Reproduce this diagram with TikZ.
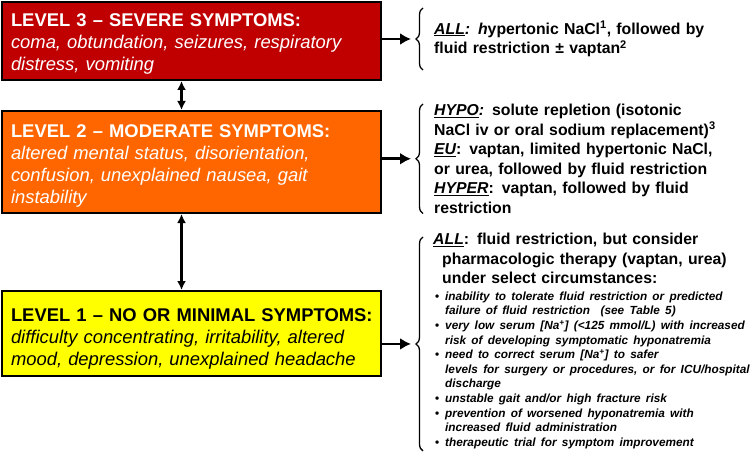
\documentclass[tikz,border=0pt]{standalone}
\usepackage{fontspec}
\setmainfont{Liberation Sans}
\usetikzlibrary{arrows.meta,decorations.pathreplacing}
\definecolor{sevred}{HTML}{C00000}
\definecolor{modorange}{HTML}{FF6600}
\definecolor{minyellow}{HTML}{FFFF00}
\newcommand{\hbul}{\par\hangindent=10pt\hangafter=1\noindent\makebox[10pt][l]{\upshape\textbullet}}
\tikzset{
 levelbox/.style={draw=black, line width=2pt, anchor=north west, minimum width=379pt, text width=361pt, inner xsep=9pt, inner ysep=0pt, align=left, font=\fontsize{18.4}{22}\selectfont},
 treatment/.style={anchor=north west, inner sep=0pt, align=left, font=\bfseries\fontsize{15.8}{19.5}\selectfont},
 levelarrow/.style={line width=2.8pt, -{Latex[length=11pt,width=12pt]}},
 steparrow/.style={line width=2.2pt, {Latex[length=9pt,width=9pt]}-{Latex[length=9pt,width=9pt]}},
 curly/.style={decorate, decoration={brace, amplitude=7pt}, line width=1.3pt}
}
\begin{document}
\begin{tikzpicture}[x=1pt, y=-1pt]
\useasboundingbox (0,0) rectangle (751,454);

\node[levelbox, fill=sevred, text=white, minimum height=78pt] (lvl3) at (1,1) {\rule{0pt}{18pt}\mbox{\textbf{LEVEL 3 -- SEVERE SYMPTOMS:}}\\ \textit{coma, obtundation, seizures, respiratory}\\ \textit{distress, vomiting}};
\node[levelbox, fill=modorange, text=white, minimum height=102pt] (lvl2) at (1,110) {\rule{0pt}{20pt}\mbox{\textbf{LEVEL 2 -- MODERATE SYMPTOMS:}}\\ \textit{altered mental status, disorientation,}\\ \textit{confusion, unexplained nausea, gait}\\ \textit{instability}};
\node[levelbox, fill=minyellow, minimum height=85pt] (lvl1) at (1,290) {\rule{0pt}{23pt}\mbox{\textbf{LEVEL 1 -- NO OR MINIMAL SYMPTOMS:}}\\ \textit{difficulty concentrating, irritability, altered}\\ \textit{mood, depression, unexplained headache}};

\node[treatment, text width=316pt, inner ysep=13pt] (t3) at (434,8) {\textit{\underline{ALL}: h}ypertonic NaCl\textsuperscript{1}, followed by\\ fluid restriction \textpm{} vaptan\textsuperscript{2}};
\node[treatment, text width=316pt] (t2) at (434,104) {\textit{\underline{HYPO}:} solute repletion (isotonic\\ NaCl iv or oral sodium replacement)\textsuperscript{3}\\ \textit{\underline{EU}}: vaptan, limited hypertonic NaCl,\\ or urea, followed by fluid restriction\\ \textit{\underline{HYPER}}: vaptan, followed by fluid\\ restriction};
\node[treatment, text width=330pt] (t1) at (433,233) {\parindent=0pt\hangindent=9pt\hangafter=1 \textit{\underline{ALL}}: fluid restriction, but consider\newline pharmacologic therapy (vaptan, urea)\newline under select circumstances:\par\vspace{2pt}
 \fontsize{11.8}{14.6}\selectfont\itshape\leftskip=2pt
 \hbul inability to tolerate fluid restriction or predicted\newline failure of fluid restriction~ (see Table 5)
 \hbul very low serum [Na\textsuperscript{+}] (<125 mmol/L) with increased\newline risk of developing symptomatic hyponatremia
 \hbul need to correct serum [Na\textsuperscript{+}] to safer\newline levels for surgery or procedures, or for ICU/hospital\newline discharge
 \hbul unstable gait and/or high fracture risk
 \hbul prevention of worsened hyponatremia with\newline increased fluid administration
 \hbul therapeutic trial for symptom improvement\par};

\draw[curly] ([xshift=-11pt]t3.south west) -- ([xshift=-11pt]t3.north west);
\draw[curly] ([xshift=-11pt]t2.south west) -- ([xshift=-11pt]t2.north west);
\draw[curly] ([xshift=-10pt,yshift=-2pt]t1.south west) -- ([xshift=-10pt,yshift=-4pt]t1.north west);

\coordinate (b3) at ([xshift=-23pt]t3.west);
\coordinate (b2) at ([xshift=-23pt]t2.west);
\coordinate (b1) at ([xshift=-22pt,yshift=-3pt]t1.west);

\path
(b3 -| lvl3.east) edge[levelarrow] (b3)
(b2 -| lvl2.east) edge[levelarrow] (b2)
(b1 -| lvl1.east) edge[levelarrow] (b1)
([xshift=-10pt]lvl3.south) edge[steparrow] ([xshift=-10pt]lvl2.north)
([xshift=-10pt]lvl2.south) edge[steparrow] ([xshift=-10pt]lvl1.north);
\end{tikzpicture}
\end{document}
